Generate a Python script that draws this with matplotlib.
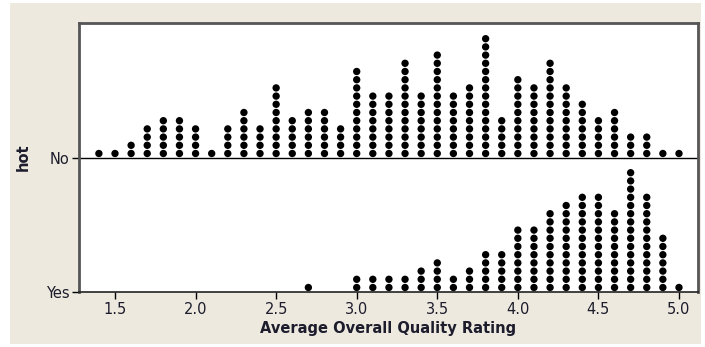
import numpy as np
import matplotlib.pyplot as plt
from matplotlib.patches import Rectangle

# dotplot of average overall quality rating, split by "hot"
ratings = np.round(np.arange(1.4, 5.01, 0.1), 1)
no_counts = [1, 1, 2, 4, 5, 5, 4, 1, 4, 6, 4, 9, 5,
             6, 6, 4, 11, 8, 8, 12, 8, 13, 8, 9, 15, 5,
             10, 9, 12, 9, 7, 5, 6, 3, 3, 1, 1]
yes_counts = [0, 0, 0, 0, 0, 0, 0, 0, 0, 0, 0, 0, 0,
              1, 0, 0, 2, 2, 2, 2, 3, 4, 2, 3, 5, 5,
              8, 8, 10, 11, 12, 12, 10, 15, 12, 7, 1]
groups = ['No', 'Yes']
xticks = [1.5, 2.0, 2.5, 3.0, 3.5, 4.0, 4.5, 5.0]

bg = '#EDE9DF'
frame = '#555555'
txt = '#1c1c2c'

fig = plt.figure(figsize=(7.05, 3.47), dpi=100, facecolor='white')
fig.patches.append(Rectangle((10/705, 3/347), 691/705, 341/347,
                             transform=fig.transFigure, facecolor=bg,
                             edgecolor='none', zorder=-1))

ax = fig.add_axes([79/705, 1 - 292/347, 619/705, 269/347])
ax.set_facecolor('white')

# y in pixel-like units: Yes baseline at 0, No baseline at 134
base = {'No': 134.0, 'Yes': 0.0}
step = 8.2
off = 4.5
for g, counts in zip(groups, [no_counts, yes_counts]):
    xs, ys = [], []
    for r, c in zip(ratings, counts):
        for i in range(c):
            xs.append(r)
            ys.append(base[g] + off + step * i)
    ax.scatter(xs, ys, s=28, color='black', edgecolor='none', zorder=3)

ax.axhline(base['No'], color='black', lw=1.0, zorder=2)

ax.set_xlim(1.2766, 5.118)
ax.set_ylim(0, 269)
ax.set_xticks(xticks)
ax.set_xticklabels(['%.1f' % t for t in xticks])
ax.set_yticks([base['No'], base['Yes']])
ax.set_yticklabels(groups)
ax.tick_params(direction='out', length=5, width=1, color='black',
               labelsize=10.5, labelcolor=txt, pad=2)

for s in ax.spines.values():
    s.set_color(frame)
    s.set_linewidth(2)
ax.spines['bottom'].set_color('#222222')
ax.spines['bottom'].set_linewidth(1.2)

ax.set_xlabel('Average Overall Quality Rating', fontsize=10.5,
              fontweight='bold', color=txt, labelpad=3)
ax.set_ylabel('hot', fontsize=10.5, fontweight='bold', color=txt, labelpad=11)

fig.savefig('out.png', dpi=100, facecolor='white')
